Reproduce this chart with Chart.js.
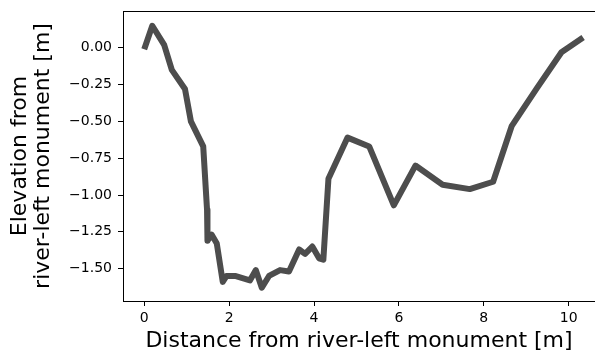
<!DOCTYPE html>
<html><head><meta charset="utf-8">
<script src="https://cdn.jsdelivr.net/npm/chart.js@4/dist/chart.umd.min.js"></script>
<style>html,body{margin:0;padding:0;background:#fff}</style>
</head><body>
<canvas id="c" width="595" height="352"></canvas>
<script>
const distance = [0, 0.19, 0.47, 0.65, 0.96, 1.10, 1.39, 1.48, 1.49, 1.59, 1.71, 1.85, 1.94, 2.14, 2.49, 2.63, 2.77, 2.94, 3.20, 3.41, 3.65, 3.79, 3.96, 4.12, 4.22, 4.34, 4.79, 5.30, 5.88, 6.39, 7.03, 7.67, 8.22, 8.66, 9.26, 9.83, 10.34];
const elevation = [-0.01, 0.15, 0.02, -0.15, -0.28, -0.50, -0.67, -1.10, -1.31, -1.27, -1.33, -1.59, -1.55, -1.55, -1.58, -1.51, -1.63, -1.55, -1.51, -1.52, -1.37, -1.40, -1.35, -1.43, -1.44, -0.89, -0.61, -0.67, -1.07, -0.80, -0.93, -0.96, -0.91, -0.53, -0.27, -0.03, 0.07];
const xTicks = [0, 2, 4, 6, 8, 10];
const yTicks = [-1.5, -1.25, -1.0, -0.75, -0.5, -0.25, 0];
const xTitle = 'Distance from river-left monument [m]';
const yTitle = ['Elevation from', 'river-left monument [m]'];

const FONT = 'DejaVu Sans';
const points = distance.map((d, i) => ({x: d, y: elevation[i]}));

const frame = {
  id: 'frame',
  afterDraw(chart) {
    const {ctx, chartArea: a} = chart;
    ctx.save();
    ctx.strokeStyle = '#000';
    ctx.lineWidth = 1;
    ctx.strokeRect(a.left + 0.5, a.top + 0.5, a.right - a.left + 5, a.bottom - a.top);
    ctx.restore();
  }
};

new Chart(document.getElementById('c'), {
  type: 'scatter',
  data: {datasets: [{
    data: points,
    showLine: true,
    borderColor: '#4d4d4d',
    borderWidth: 6,
    borderJoinStyle: 'round',
    borderCapStyle: 'butt',
    pointRadius: 0,
    tension: 0
  }]},
  options: {
    responsive: false,
    devicePixelRatio: 1,
    animation: false,
    layout: {padding: {left: 0, right: 0, top: 11, bottom: 0}},
    plugins: {legend: {display: false}, tooltip: {enabled: false}},
    scales: {
      x: {
        type: 'linear', min: -0.5, max: 10.62,
        afterBuildTicks: s => { s.ticks = xTicks.map(v => ({value: v})); },
        afterFit: s => { s.height = 51; s.paddingLeft = 0; s.paddingRight = 0; },
        ticks: {callback: v => String(v), font: {family: FONT, size: 14}, color: '#000', padding: 4, maxRotation: 0, autoSkip: false},
        grid: {display: true, drawOnChartArea: false, drawTicks: true, tickLength: 5, tickColor: '#000'},
        border: {display: false},
        title: {display: true, text: xTitle, font: {family: FONT, size: 22, lineHeight: 1.0}, color: '#000', padding: {top: 0, bottom: 0}}
      },
      y: {
        type: 'linear', min: -1.72, max: 0.25,
        afterBuildTicks: s => { s.ticks = yTicks.map(v => ({value: v})); },
        afterFit: s => { s.width = 123; s.paddingTop = 0; s.paddingBottom = 0; },
        ticks: {callback: v => v.toFixed(2).replace('-', '\u2212'), font: {family: FONT, size: 14}, color: '#000', padding: 6, autoSkip: false},
        grid: {display: true, drawOnChartArea: false, drawTicks: true, tickLength: 5, tickColor: '#000'},
        border: {display: false},
        title: {display: true, text: yTitle, font: {family: FONT, size: 22, lineHeight: 1.045}, color: '#000', padding: {top: 8.5, bottom: 0}}
      }
    }
  },
  plugins: [frame]
});
</script>
</body></html>
